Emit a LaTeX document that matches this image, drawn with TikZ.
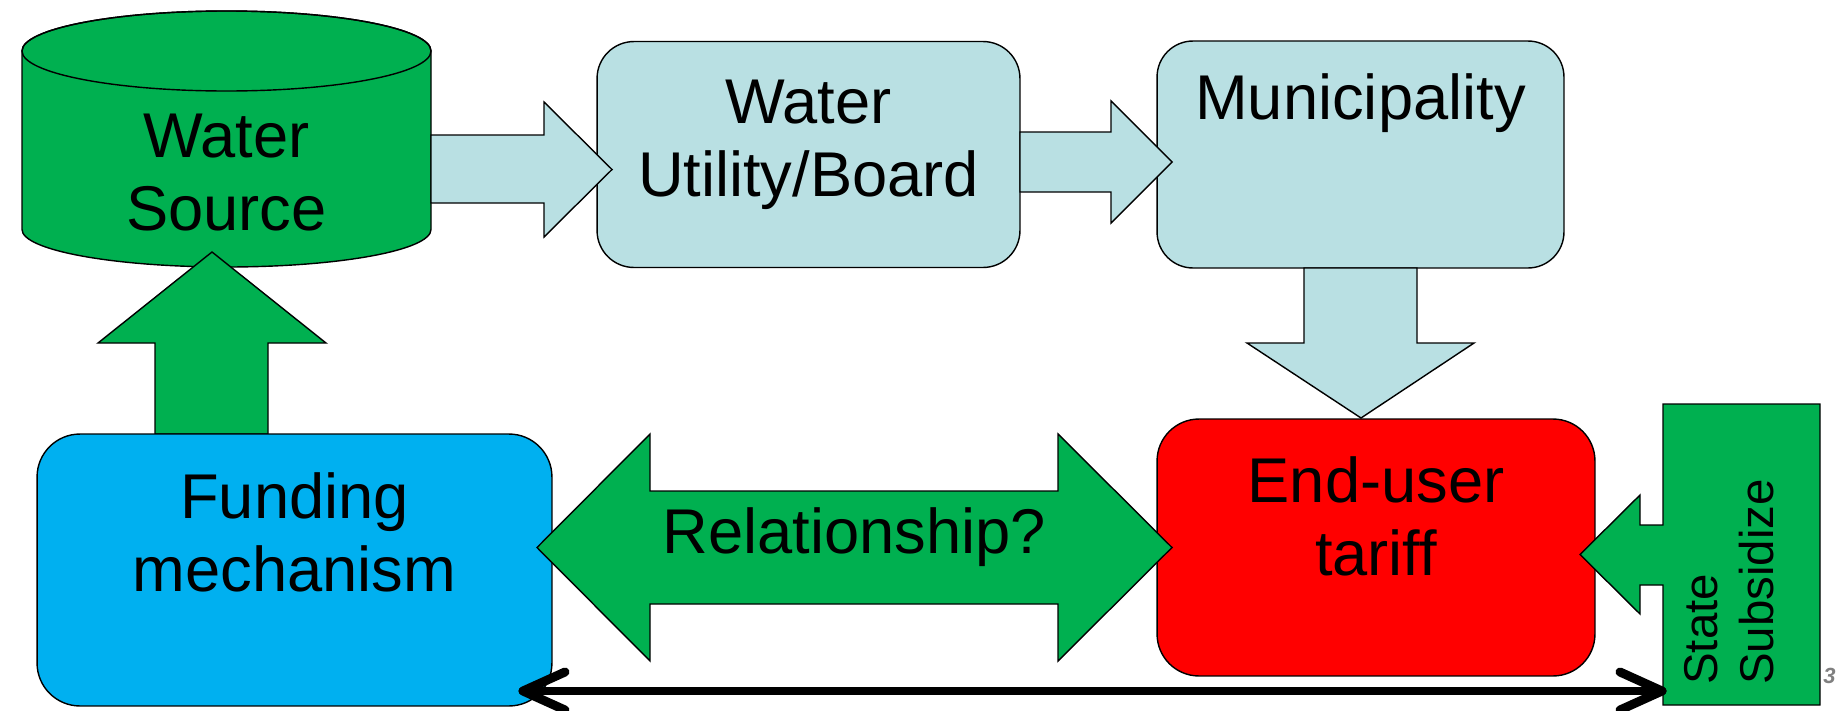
\documentclass[tikz,border=0pt]{standalone}
\usepackage{fontspec}
\setmainfont{Liberation Sans}
\definecolor{pgreen}{HTML}{00B050}
\definecolor{plblue}{HTML}{B9E0E3}
\definecolor{pblue}{HTML}{00B0F0}
\definecolor{pred}{HTML}{FF0000}
\definecolor{pgray}{HTML}{808080}
\begin{document}
\begin{tikzpicture}[x=0.02cm,y=-0.02cm,
  outl/.style={draw=black,line width=0.8pt,line join=miter},
  rbox/.style={outl,rectangle,inner sep=0pt,outer sep=0pt},
  lbl/.style={align=center,inner sep=0pt,font=\fontsize{36}{41}\selectfont},
  barb/.style={line width=5.1pt,line cap=round,line join=round}]
\useasboundingbox (0,0) rectangle (1841,710);
% water source cylinder
\path[outl,fill=pgreen] (22,51) -- (22,229.5) arc[start angle=180,end angle=0,x radius=204.5,y radius=37.5] -- (431,51) arc[start angle=0,end angle=-180,x radius=204.5,y radius=40] -- cycle;
\draw[outl] (226.5,51) ellipse[x radius=204.5,y radius=40];
\node[lbl,anchor=base] (src) at (226.5,230) {Water\\Source};
% up arrow funding -> source
\path[outl,fill=pgreen] (212,252) -- (326,343) -- (268,343) -- (268,434) -- (155,434) -- (155,343) -- (98,343) -- cycle;
% boxes
\node[rbox,fill=pblue,minimum width=10.3cm,minimum height=5.44cm,rounded corners=0.86cm] (fund) at (294.5,570) {};
\node[rbox,fill=plblue,minimum width=8.46cm,minimum height=4.52cm,rounded corners=0.74cm] (util) at (808.5,154.5) {};
\node[rbox,fill=plblue,minimum width=8.14cm,minimum height=4.54cm,rounded corners=0.72cm] (muni) at (1360.5,154.5) {};
\node[rbox,fill=pred,minimum width=8.76cm,minimum height=5.14cm,rounded corners=0.84cm] (tariff) at (1376,547.5) {};
% block arrows
\path[outl,fill=plblue] (431,135) -- (544,135) -- (544,102) -- (612,169.5) -- (544,237) -- (544,203) -- (431,203) -- cycle;
\path[outl,fill=plblue] (1020,132) -- (1111,132) -- (1111,101) -- (1172,162) -- (1111,223) -- (1111,192) -- (1020,192) -- cycle;
\path[outl,fill=plblue] (1304,268) -- (1417,268) -- (1417,343) -- (1474,343) -- (1361,418) -- (1247,343) -- (1304,343) -- cycle;
\path[outl,fill=pgreen] (537,547.5) -- (650,434) -- (650,491) -- (1058,491) -- (1058,434) -- (1172,547.5) -- (1058,661) -- (1058,604) -- (650,604) -- (650,661) -- cycle;
% state subsidize callout
\path[outl,fill=pgreen] (1663,404) -- (1820,404) -- (1820,705) -- (1663,705) -- (1663,585) -- (1640,585) -- (1640,614) -- (1580,554.5) -- (1640,495) -- (1640,525) -- (1663,525) -- cycle;
% labels
\node[lbl,anchor=base] (tutil) at (808.5,196) {Water\\Utility/Board};
\node[lbl,anchor=base] (tmuni) at (1360.5,119) {Municipality};
\node[lbl,anchor=base] (tfund) at (294.5,591) {Funding\\mechanism};
\node[lbl,anchor=base] (ttar) at (1376,575) {End-user\\tariff};
\node[lbl,anchor=base] (trel) at (854.5,553) {Relationship?};
\node[align=left,inner sep=0pt,rotate=90,anchor=base west,font=\fontsize{27}{31.8}\selectfont] (tstate) at (1773,685) {State\\Subsidize};
\node[inner sep=0pt,anchor=base west,text=pgray,font=\fontsize{12.5}{15}\selectfont\bfseries\itshape] (pnum) at (1823,683) {3};
% bottom double arrow
\coordinate (bl) at (523,691);
\coordinate (br) at (1662,691);
\draw[barb] (bl) -- (br);
\draw[barb] (565,672) -- (bl) -- (565,710);
\draw[barb] (1620,672) -- (br) -- (1620,710);
\end{tikzpicture}
\end{document}
